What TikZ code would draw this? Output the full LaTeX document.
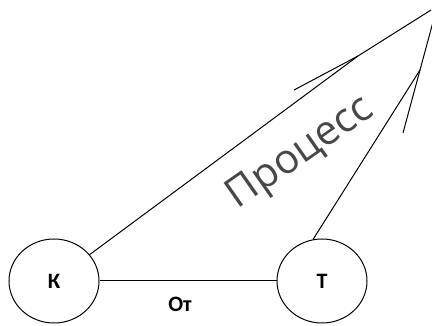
\documentclass[tikz,border=0pt]{standalone}
\usepackage{fontspec}
\setmainfont{Carlito}
\newfontfamily\procfont{Open Sans}
\usetikzlibrary{shapes.geometric}
\begin{document}
\begin{tikzpicture}[x=1pt,y=-1pt,
  circ/.style={draw,line width=1pt,ellipse,minimum width=90pt,minimum height=84pt,inner sep=0pt,font=\bfseries\fontsize{22}{26}\selectfont},
  conn/.style={line width=1pt},
  lbl/.style={font=\bfseries\fontsize{22}{26}\selectfont},
  proc/.style={font=\procfont\fontsize{41}{49}\selectfont,text=black!72}]
\useasboundingbox (0,0) rectangle (432,326);
\node[circ] (K) at (54,281) {К};
\node[circ] (T) at (322,281) {Т};
\coordinate (a1) at (431,10);
\coordinate (m1) at (358,56);
\coordinate (h1) at (294,90);
\coordinate (a2) at (433,22);
\coordinate (m2) at (420,70);
\coordinate (h2) at (403,133);
\draw[conn] (K.east) -- (T.west);
\node[lbl] (ot) at (180,304) {От};
\draw[conn] (K) -- (m1) -- (a1);
\draw[conn] (h1) -- (m1);
\draw[conn] (T.102) -- (m2) -- (a2);
\draw[conn] (h2) -- (m2);
\node[proc,rotate=35] (p) at (301,154) {Процесс};
\end{tikzpicture}
\end{document}
